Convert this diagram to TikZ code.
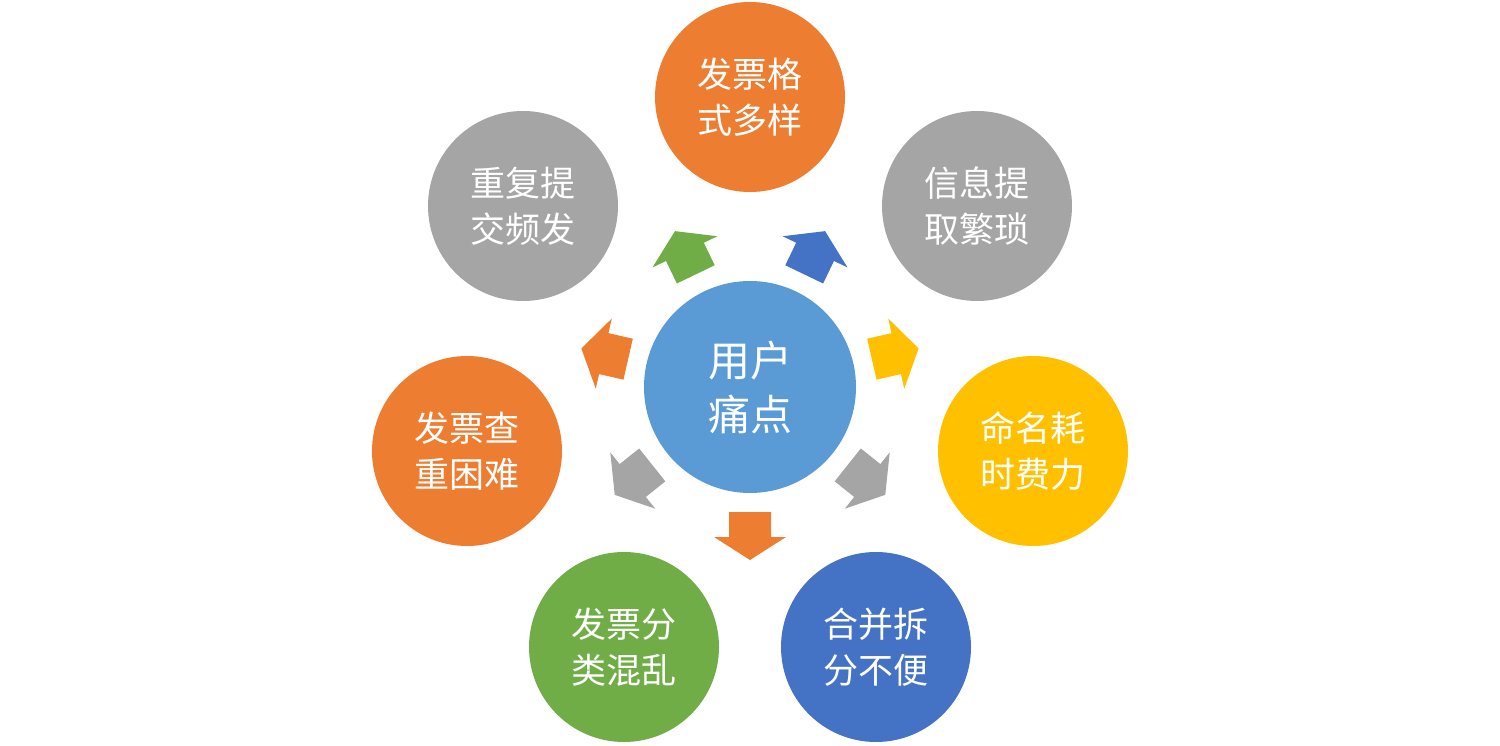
\documentclass[tikz,border=0pt]{standalone}
\usepackage{fontspec}
\newfontfamily\cjk{Noto Sans CJK SC}
\definecolor{cOr}{HTML}{ED7D31}
\definecolor{cGr}{HTML}{A5A5A5}
\definecolor{cYe}{HTML}{FFC000}
\definecolor{cBl}{HTML}{4472C4}
\definecolor{cGn}{HTML}{70AD47}
\definecolor{cCe}{HTML}{5B9BD5}
\tikzset{
 outer/.style={circle,minimum size=190pt,inner sep=0pt,text=white,align=center,font=\cjk\fontsize{35}{46}\selectfont},
 center/.style={circle,minimum size=212pt,inner sep=0pt,fill=cCe,text=white,align=center,font=\cjk\fontsize{42}{54}\selectfont}
}
\newcommand{\blockarrow}[2]{%
 \begin{scope}[shift={(750,387)},rotate=#1]
 \fill[#2] (125,-21) -- (150,-21) -- (150,-36) -- (173,0) -- (150,36) -- (150,21) -- (125,21) -- cycle;
 \end{scope}}
\begin{document}
\begin{tikzpicture}[x=1pt,y=-1pt]
\useasboundingbox (0,0) rectangle (1500,746);
\node[center] (c) at (750,387) {用户\\痛点};
\node[outer,fill=cOr] (n1) at (750,97) {发票格\\式多样};
\node[outer,fill=cGr] (n2) at (977,206) {信息提\\取繁琐};
\node[outer,fill=cYe] (n3) at (1033,451) {命名耗\\时费力};
\node[outer,fill=cBl] (n4) at (876,647) {合并拆\\分不便};
\node[outer,fill=cGn] (n5) at (624,647) {发票分\\类混乱};
\node[outer,fill=cOr] (n6) at (467,451) {发票查\\重困难};
\node[outer,fill=cGr] (n7) at (523,206) {重复提\\交频发};
\blockarrow{-90}{cOr}
\blockarrow{-38.57}{cGr}
\blockarrow{12.86}{cYe}
\blockarrow{64.29}{cBl}
\blockarrow{115.71}{cGn}
\blockarrow{167.14}{cOr}
\blockarrow{218.57}{cGr}
\end{tikzpicture}
\end{document}
